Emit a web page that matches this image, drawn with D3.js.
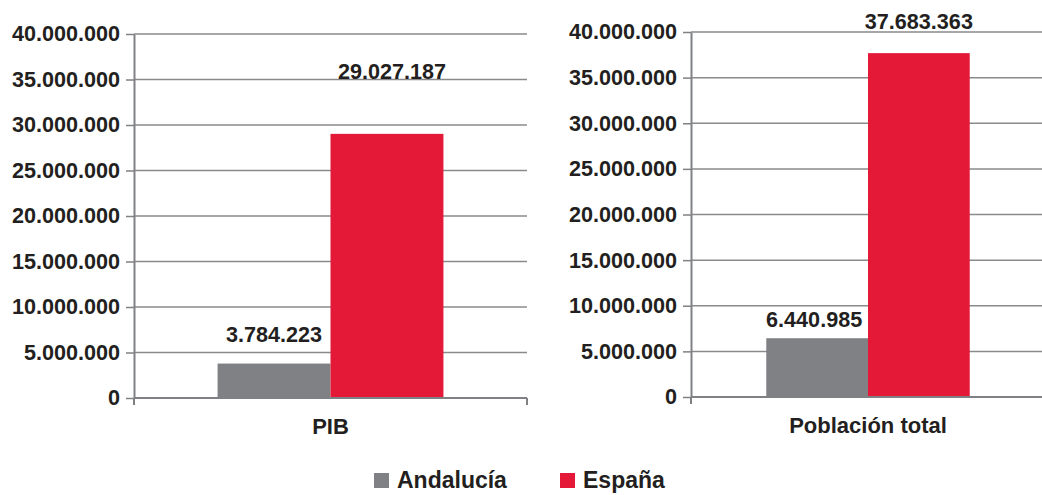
<!DOCTYPE html>
<html>
<head>
<meta charset="utf-8">
<script src="https://cdn.jsdelivr.net/npm/d3@7"></script>
<style>
  body { margin: 0; background: #fff; }
  svg text { font-family: "Liberation Sans", Arial, sans-serif; font-weight: bold; fill: #231f20; }
</style>
</head>
<body>
<div id="chart"></div>
<script>
// data
const series = ["Andalucía", "España"];
const colors = ["#808184", "#e31937"];
const categories = ["PIB", "Población total"];
const pibValues = [3784223, 29027187];
const poblacionValues = [6440985, 37683363];
const yTicks = [0, 5000000, 10000000, 15000000, 20000000, 25000000, 30000000, 35000000, 40000000];

const width = 1042, height = 495;

const svg = d3.select("#chart")
  .append("svg")
  .attr("width", width)
  .attr("height", height);

const es = d3.formatLocale({ decimal: ",", thousands: ".", grouping: [3], currency: ["", "€"] });
const fmt = es.format(",d");

// one panel per category
const panels = [
  { cat: categories[0], values: pibValues, x0: 134, x1: 527, top: 34, bottom: 398, raise: [22, 55], shift: [0, 5] },
  { cat: categories[1], values: poblacionValues, x0: 691, x1: 1045, top: 32, bottom: 397, raise: [11, 24], shift: [-3, 0] }
];

panels.forEach(function(p) {
  const g = svg.append("g");

  const y = d3.scaleLinear()
    .domain([0, 40000000])
    .range([p.bottom, p.top]);

  const x = d3.scaleBand()
    .domain([p.cat])
    .range([p.x0, p.x1])
    .padding(0);

  const xs = d3.scaleBand()
    .domain(series)
    .range([0, x.bandwidth()])
    .paddingInner(0)
    .paddingOuter(0.74);

  // gridlines
  g.selectAll(".grid")
    .data(yTicks.slice(1))
    .enter()
    .append("line")
      .attr("x1", p.x0)
      .attr("x2", p.x1)
      .attr("y1", d => y(d))
      .attr("y2", d => y(d))
      .attr("stroke", "#8a8a8c")
      .attr("stroke-width", 1.5);

  // bars
  g.selectAll(".bar")
    .data(p.values)
    .enter()
    .append("rect")
      .attr("x", (d, i) => x(p.cat) + xs(series[i]))
      .attr("y", d => y(d))
      .attr("width", xs.bandwidth())
      .attr("height", d => y(0) - y(d))
      .attr("fill", (d, i) => colors[i]);

  // y axis
  const yAxis = g.append("g")
    .attr("transform", `translate(${p.x0},0)`)
    .call(d3.axisLeft(y).tickValues(yTicks).tickFormat(fmt).tickSize(8).tickPadding(6).tickSizeOuter(0));
  yAxis.select(".domain").attr("stroke", "#808184").attr("stroke-width", 2);
  yAxis.selectAll(".tick line").attr("stroke", "#808184").attr("stroke-width", 1.5);
  yAxis.selectAll(".tick text").attr("font-size", "21.6px").attr("fill", "#231f20")
    .style("font-family", "'Liberation Sans', Arial, sans-serif").style("font-weight", "bold");

  // x axis baseline with end ticks
  g.append("line")
    .attr("x1", p.x0).attr("x2", p.x1)
    .attr("y1", y(0)).attr("y2", y(0))
    .attr("stroke", "#808184").attr("stroke-width", 2);
  g.selectAll(".xtick")
    .data([p.x0, p.x1])
    .enter()
    .append("line")
      .attr("x1", d => d).attr("x2", d => d)
      .attr("y1", y(0)).attr("y2", y(0) + 7)
      .attr("stroke", "#808184").attr("stroke-width", 2);

  // category label
  g.append("text")
    .attr("x", x(p.cat) + x.bandwidth() / 2)
    .attr("y", y(0) + 36)
    .attr("text-anchor", "middle")
    .attr("font-size", "22px")
    .text(p.cat);

  // value labels
  g.selectAll(".val")
    .data(p.values)
    .enter()
    .append("text")
      .attr("x", (d, i) => x(p.cat) + xs(series[i]) + xs.bandwidth() / 2 + p.shift[i])
      .attr("y", (d, i) => y(d) - p.raise[i])
      .attr("text-anchor", "middle")
      .attr("font-size", "21.6px")
      .text(d => fmt(d));
});

// legend
const legend = svg.append("g");
const legendX = [374, 560];
series.forEach(function(s, i) {
  legend.append("rect")
    .attr("x", legendX[i]).attr("y", 473)
    .attr("width", 15).attr("height", 15)
    .attr("fill", colors[i]);
  legend.append("text")
    .attr("x", legendX[i] + 23).attr("y", 488)
    .attr("font-size", "23px")
    .text(s);
});
</script>
</body>
</html>
